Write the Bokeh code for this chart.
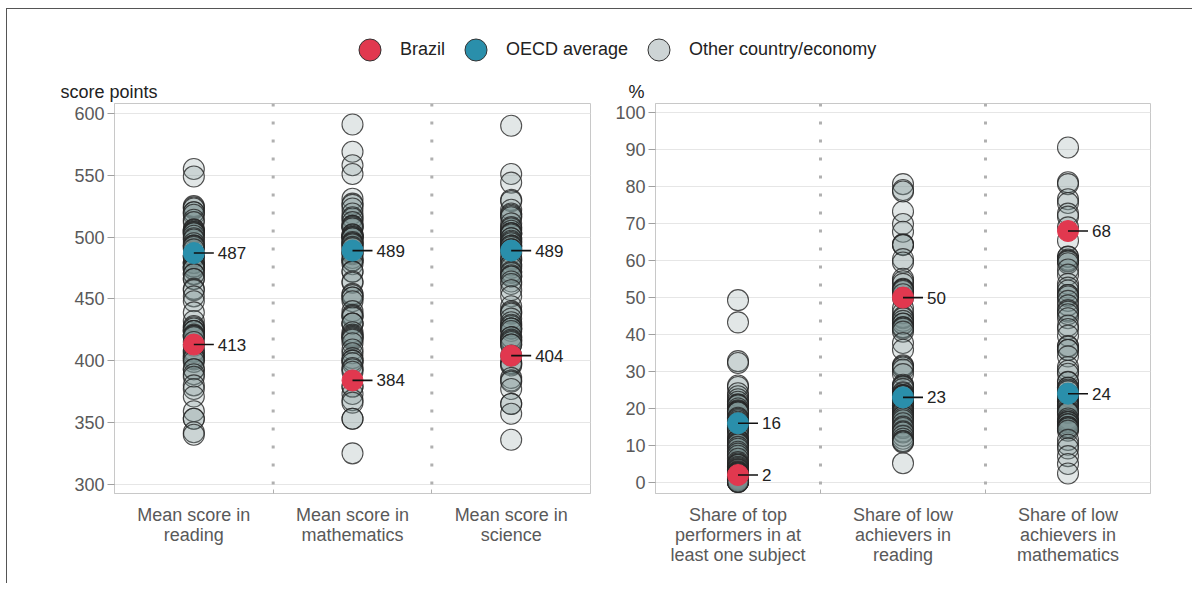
from bokeh.plotting import figure
from bokeh.models import ColumnDataSource, Range1d, FixedTicker, Span, Legend, LegendItem, Title
from bokeh.layouts import column, row
from bokeh.embed import file_html
from bokeh.resources import INLINE
from bokeh.core.properties import value

FONT = "Liberation Sans"

# ---------------- data ----------------
score_categories = ["Mean score in\nreading", "Mean score in\nmathematics", "Mean score in\nscience"]
share_categories = ["Share of top\nperformers in at\nleast one subject",
                    "Share of low\nachievers in\nreading",
                    "Share of low\nachievers in\nmathematics"]

reading = [555, 549, 525, 524, 523, 520, 520, 518, 514, 512, 506, 506, 505, 504, 504, 503, 503, 501,
           499, 498, 495, 493, 493, 492, 490, 485, 484, 484, 479, 479, 479, 476, 476, 476, 474, 474,
           470, 470, 466, 466, 458, 457, 452, 448, 439, 432, 428, 427, 426, 424, 424, 424, 421, 420,
           420, 419, 415, 412, 408, 407, 405, 403, 402, 401, 399, 393, 393, 389, 387, 380, 377, 371,
           359, 353, 353, 342, 340]
mathematics = [591, 569, 558, 551, 531, 527, 526, 523, 519, 516, 515, 512, 509, 509, 508, 507, 502, 502,
               501, 500, 500, 499, 499, 496, 495, 495, 494, 492, 491, 488, 487, 486, 483, 481, 481, 481,
               478, 472, 472, 464, 463, 454, 453, 451, 451, 448, 440, 437, 436, 435, 430, 430, 430, 423,
               421, 420, 419, 418, 417, 414, 409, 406, 402, 400, 400, 398, 394, 393, 391, 379, 379, 373,
               368, 366, 353, 353, 325]
science = [590, 551, 544, 530, 529, 522, 519, 518, 517, 516, 511, 508, 507, 505, 503, 503, 503, 502,
           499, 499, 497, 496, 495, 493, 493, 492, 490, 490, 487, 483, 482, 481, 478, 477, 475, 472,
           471, 469, 468, 468, 464, 462, 457, 452, 444, 440, 439, 438, 434, 431, 429, 428, 426, 426,
           426, 424, 419, 419, 417, 416, 415, 413, 413, 404, 398, 398, 397, 396, 386, 384, 383, 377,
           365, 365, 357, 336]
top_performers = [49.3, 43.3, 32.8, 32.3, 26.2, 25.8, 24.1, 23.3, 22.5, 21.8, 21.1, 21.0, 20.8, 20.0,
                  19.5, 19.3, 19.2, 19.0, 18.9, 17.5, 17.2, 16.8, 16.4, 16.0, 15.5, 15.3, 14.8, 14.6,
                  14.2, 13.6, 12.5, 11.6, 11.4, 11.2, 10.8, 10.5, 10.3, 9.6, 9.1, 8.3, 7.8, 7.2, 6.4,
                  5.5, 5.1, 4.8, 4.7, 4.2, 3.9, 3.6, 3.4, 3.0, 2.8, 2.7, 2.5, 2.4, 2.2, 2.0, 1.9, 1.6,
                  1.5, 1.3, 1.1, 1.0, 0.9, 0.8, 0.7, 0.6, 0.5, 0.4, 0.3, 0.3, 0.2, 0.2, 0.1, 0.1]
low_reading = [80.7, 79.1, 78.7, 73.3, 69.9, 67.8, 64.4, 64.3, 64.2, 60.4, 59.5, 55.1, 54.4, 53.7,
               52.4, 52.2, 52.1, 51.8, 50.9, 49.9, 47.1, 45.8, 44.7, 44.4, 43.7, 43.0, 42.9, 42.0,
               41.9, 41.6, 40.8, 37.7, 35.9, 31.7, 31.4, 31.1, 30.5, 29.3, 26.4, 26.1, 25.9, 25.3,
               24.4, 24.1, 23.6, 23.6, 23.4, 23.3, 22.4, 22.1, 21.6, 21.3, 20.9, 20.7, 20.7, 20.2,
               19.6, 19.3, 19.3, 19.0, 18.4, 17.9, 17.8, 17.3, 16.8, 16.0, 15.1, 14.7, 13.8, 13.5,
               12.6, 11.8, 11.2, 11.1, 10.8, 5.2]
low_math = [90.6, 81.2, 80.7, 76.6, 75.6, 72.7, 71.9, 69.0, 65.4, 61.1, 61.0, 60.3, 60.0, 59.8, 59.3,
            57.6, 56.2, 53.7, 52.7, 51.9, 50.7, 50.7, 50.3, 49.1, 47.9, 46.6, 46.2, 45.5, 44.4, 42.4,
            41.5, 39.7, 36.9, 36.7, 35.9, 35.8, 34.1, 31.2, 30.2, 29.4, 27.2, 27.1, 25.6, 25.6, 25.1,
            24.7, 23.8, 23.3, 22.4, 21.8, 21.6, 21.3, 21.1, 21.1, 20.7, 20.4, 19.7, 19.2, 18.9, 18.8,
            17.3, 16.8, 16.4, 16.3, 15.8, 15.7, 15.0, 15.0, 14.7, 14.6, 14.0, 11.5, 10.2, 9.2, 7.1,
            5.0, 2.4]

brazil_scores = [413, 384, 404]
oecd_scores = [487, 489, 489]
brazil_shares = [2, 50, 68]
oecd_shares = [16, 23, 24]

score_ticks = [300, 350, 400, 450, 500, 550, 600]
share_ticks = [0, 10, 20, 30, 40, 50, 60, 70, 80, 90, 100]

legend_labels = ["Brazil", "OECD average", "Other country/economy"]

# ---------------- styles ----------------
RED = "#e1384f"
TEAL = "#2a8fab"
OTHER_FILL = "#7d9092"
TEXT = "#222222"
TICK_TEXT = "#595959"
FIG_H = 506


def panel(categories, series, brazil, oecd, yr, ticks, unit, width, mbl, mbr, title_offset):
    p = figure(width=width, height=FIG_H, x_range=Range1d(0, 3), y_range=Range1d(*yr),
               output_backend="svg", toolbar_location=None,
               min_border_left=mbl, min_border_right=mbr, min_border_top=20, min_border_bottom=90)
    p.background_fill_color = "white"
    p.border_fill_color = "white"
    p.outline_line_color = "#c8c8c8"
    p.outline_line_width = 1

    frame_w = width - mbl - mbr
    lead = 20 * 3 / frame_w

    xs, ys = [], []
    for i, arr in enumerate(series):
        xs += [i + 0.5] * len(arr)
        ys += list(arr)
    src = ColumnDataSource(dict(x=xs, y=ys))

    for loc in (1, 2):
        p.add_layout(Span(location=loc, dimension="height", line_color="#b0b0b0",
                          line_width=3, line_dash="3 15"))

    p.scatter("x", "y", source=src, size=21, fill_color=OTHER_FILL, fill_alpha=0.22,
              line_color="#262626", line_alpha=0.8, line_width=1.1)

    cx = [i + 0.5 for i in range(len(categories))]
    osrc = ColumnDataSource(dict(x=cx, y=oecd, x1=[c + lead for c in cx], lab=[str(v) for v in oecd]))
    bsrc = ColumnDataSource(dict(x=cx, y=brazil, x1=[c + lead for c in cx], lab=[str(v) for v in brazil]))
    p.scatter("x", "y", source=osrc, size=21, fill_color=TEAL, line_color=TEAL, line_width=1)
    p.scatter("x", "y", source=bsrc, size=21, fill_color=RED, line_color=RED, line_width=1)
    for s in (osrc, bsrc):
        p.segment(x0="x", y0="y", x1="x1", y1="y", source=s, line_color="#111111", line_width=1.6)
        p.text(x="x1", y="y", text="lab", source=s, x_offset=4, text_baseline="middle",
               text_align="left", text_font=value(FONT), text_font_size="17px", text_color=TEXT)

    # axes
    p.yaxis.ticker = FixedTicker(ticks=ticks)
    p.ygrid.ticker = FixedTicker(ticks=ticks)
    p.ygrid.grid_line_color = "#e6e6e6"
    p.xgrid.visible = False
    p.yaxis.axis_line_color = "#c8c8c8"
    p.yaxis.major_tick_line_color = "#a0a0a0"
    p.yaxis.major_tick_out = 7
    p.yaxis.major_tick_in = 0
    p.yaxis.minor_tick_line_color = None
    p.yaxis.major_label_text_font = FONT
    p.yaxis.major_label_text_font_size = "18px"
    p.yaxis.major_label_text_color = TICK_TEXT
    p.yaxis.major_label_standoff = 3

    p.xaxis.ticker = FixedTicker(ticks=cx, minor_ticks=[1, 2])
    p.xaxis.major_label_overrides = {c: lab for c, lab in zip(cx, categories)}
    p.xaxis.axis_line_color = "#c8c8c8"
    p.xaxis.major_tick_line_color = None
    p.xaxis.minor_tick_line_color = "#b0b0b0"
    p.xaxis.minor_tick_in = 4
    p.xaxis.minor_tick_out = 0
    p.xaxis.major_label_standoff = 5
    p.xaxis.major_label_text_font = FONT
    p.xaxis.major_label_text_font_size = "18px"
    p.xaxis.major_label_text_color = TICK_TEXT
    p.xaxis.major_label_text_line_height = 1.0

    p.add_layout(Title(text=unit, align="left", offset=title_offset, text_font=FONT,
                       text_font_size="18px", text_font_style="normal", text_color=TEXT,
                       standoff=4), "above")
    return p


left = panel(score_categories, [reading, mathematics, science], brazil_scores, oecd_scores,
             (292.5, 608), score_ticks, "score points", 592, 107, 9, -54)
right = panel(share_categories, [top_performers, low_reading, low_math], brazil_shares, oecd_shares,
              (-3, 102.5), share_ticks, "%", 593, 56, 42, -27)

# legend figure
lg = figure(width=1185, height=68, x_range=Range1d(0, 1), y_range=Range1d(0, 1),
            output_backend="svg", toolbar_location=None, min_border=0)
lg.axis.visible = False
lg.grid.visible = False
lg.outline_line_color = None
lg.border_fill_color = "white"
fills = [RED, TEAL, "#cdd4d5"]
items = []
for lab, fc in zip(legend_labels, fills):
    r = lg.scatter(x=[-5], y=[-5], size=22, fill_color=fc, line_color="#333333", line_width=1)
    items.append(LegendItem(label=lab, renderers=[r]))
legend = Legend(items=items, orientation="horizontal", location=(335, 0), glyph_width=55,
                glyph_height=55, label_standoff=3, spacing=3, padding=0, margin=0,
                border_line_color=None, background_fill_alpha=0,
                label_text_font=FONT, label_text_font_size="18px", label_text_color=TEXT)
lg.add_layout(legend, "center")

layout = column(lg, row(left, right),
                styles={"border-left": "1px solid #555555", "border-top": "1px solid #555555",
                        "margin-left": "6px", "margin-top": "8px"})

open("out.html", "w").write(file_html(layout, INLINE))
